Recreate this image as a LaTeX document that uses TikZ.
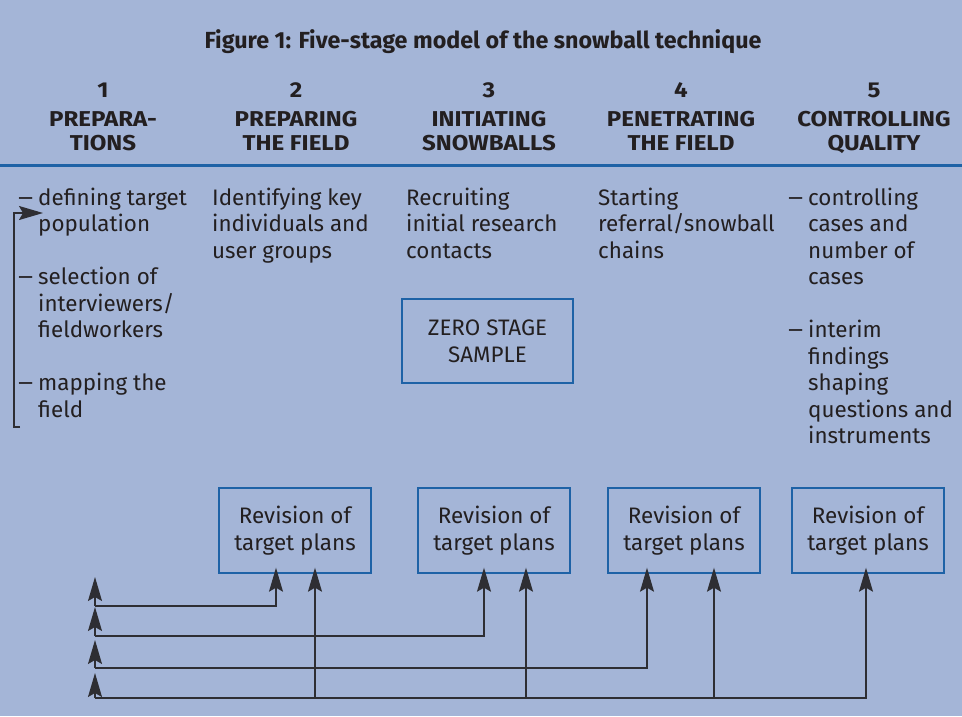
\documentclass[tikz,border=0pt]{standalone}
\usepackage{fontspec}
\setmainfont{Fira Sans}
\newfontfamily\headfont{Fira Sans}[FakeStretch=1.12]
\usetikzlibrary{arrows.meta,calc}
\definecolor{panel}{HTML}{A4B5D7}
\definecolor{rulecol}{HTML}{1E62A6}
\definecolor{ink}{HTML}{231F20}
\definecolor{wirecol}{HTML}{2E2E33}

\begin{document}
\begin{tikzpicture}[x=1pt,y=-1pt,
  every node/.style={inner sep=0pt, text=ink},
  % multi-line nodes: the base anchor sits on the last line
  bodytext/.style={font=\fontsize{22.4}{26.5}\selectfont, align=left, anchor=base west},
  headtext/.style={font=\headfont\fontsize{21.5}{23.5}\selectfont\bfseries, align=center, anchor=base},
  stagebox/.style={draw=rulecol, line width=1.4pt, minimum width=152pt, minimum height=85pt,
                   font=\fontsize{22.4}{27}\selectfont, align=center},
  wire/.style={draw=wirecol, line width=1.3pt},
  arr/.style={wire, -{Stealth[length=24pt,width=14pt,inset=4pt]}},
]
\newcommand{\dashitem}{\makebox[20pt][l]{\scalebox{1.3}[1]{–}}}
\newcommand{\indentitem}{\hspace*{20pt}}

% panel
\fill[panel] (0,0) rectangle (962,716);
\useasboundingbox (0,0) rectangle (962,716);

% title
\node[font=\fontsize{23.3}{28}\selectfont\bfseries, anchor=base] (title) at (483,48)
  {Figure 1: Five-stage model of the snowball technique};

% stage headings (base = last line)
\node[headtext] (h1) at (103,150) {1\\[5.5pt]PREPARA-\\TIONS};
\node[headtext] (h2) at (296,150) {2\\[5.5pt]PREPARING\\THE FIELD};
\node[headtext] (h3) at (489,150) {3\\[5.5pt]INITIATING\\SNOWBALLS};
\node[headtext] (h4) at (681,150) {4\\[5.5pt]PENETRATING\\THE FIELD};
\node[headtext] (h5) at (874,150) {5\\[5.5pt]CONTROLLING\\QUALITY};

% rule under the headings
\coordinate (ruleL) at (0,165);
\coordinate (ruleR) at (962,165);
\draw[rulecol, line width=3pt] (ruleL) -- (ruleR);

% column texts (base = last line)
\node[bodytext] (c1) at (18,417)
  {\dashitem defining target\\ \indentitem population\\[26.5pt]
   \dashitem selection of\\ \indentitem interviewers/\\ \indentitem fieldworkers\\[26.5pt]
   \dashitem mapping the\\ \indentitem field};
\node[bodytext] (c2) at (212,258) {Identifying key\\individuals and\\user groups};
\node[bodytext] (c3) at (406,258) {Recruiting\\initial research\\contacts};
\node[bodytext] (c4) at (598,258) {Starting\\referral/snowball\\chains};
\node[bodytext] (c5) at (788,443.5)
  {\dashitem controlling\\ \indentitem cases and\\ \indentitem number of\\ \indentitem cases\\[26.5pt]
   \dashitem interim\\ \indentitem findings\\ \indentitem shaping\\ \indentitem questions and\\ \indentitem instruments};

% bracket in the first column
\coordinate (bk0) at (20,427);
\coordinate (bk1) at (14,427);
\coordinate (bk2) at (14,213);
\coordinate (bk3) at (43,213);
\draw[arr] (bk0) -- (bk1) -- (bk2) -- (bk3);

% zero stage sample
\node[stagebox, minimum width=171pt, minimum height=84pt] (zero) at (487.5,341)
  {ZERO STAGE\\SAMPLE};

% revision boxes
\node[stagebox] (r1) at (295,530.5) {Revision of\\target plans};
\node[stagebox] (r2) at (494,530.5) {Revision of\\target plans};
\node[stagebox] (r3) at (684,530.5) {Revision of\\target plans};
\node[stagebox] (r4) at (868,530.5) {Revision of\\target plans};

% feedback spine
\coordinate (s1) at (95,606);
\coordinate (s2) at (95,636);
\coordinate (s3) at (95,668);
\coordinate (s4) at (95,698);
\coordinate (t1) at (95,577);
\coordinate (t2) at (95,607);
\coordinate (t3) at (95,640);
\coordinate (t4) at (95,673);

% arrow entry points on the boxes
\coordinate (r1a) at ($(r1.south)+(-19,-6)$);
\coordinate (r1b) at ($(r1.south)+(20,-6)$);
\coordinate (r2a) at ($(r2.south)+(-10,-6)$);
\coordinate (r2b) at ($(r2.south)+(32,-6)$);
\coordinate (r3a) at ($(r3.south)+(-37,-6)$);
\coordinate (r3b) at ($(r3.south)+(30,-6)$);
\coordinate (r4a) at ($(r4.south)+(-2,-6)$);

\draw[arr] (s1) -| (r1a);
\draw[arr] (s2) -| (r2a);
\draw[arr] (s3) -| (r3a);
\draw[arr] (s4) -| (r4a);
\draw[arr] (r1b |- s4) -- (r1b);
\draw[arr] (r2b |- s4) -- (r2b);
\draw[arr] (r3b |- s4) -- (r3b);

\draw[arr] (s1) -- (t1);
\draw[arr] (s2) -- (t2);
\draw[arr] (s3) -- (t3);
\draw[arr] (s4) -- (t4);
\end{tikzpicture}
\end{document}
